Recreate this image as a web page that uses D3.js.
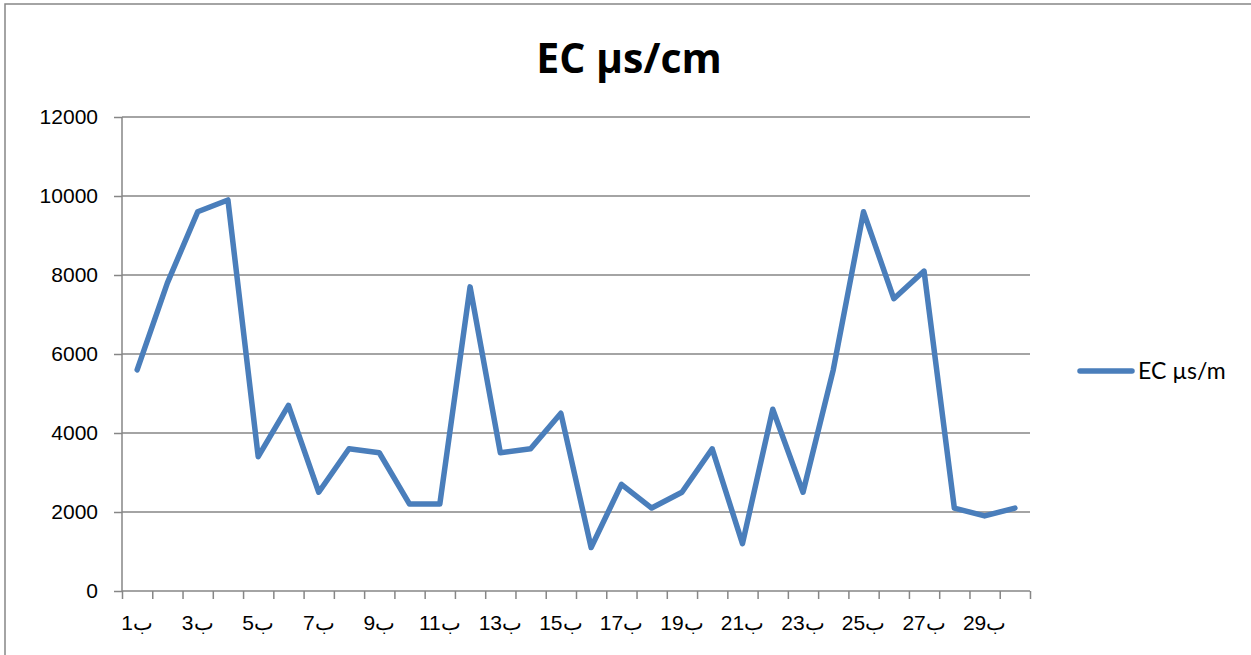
<!DOCTYPE html>
<html>
<head>
<meta charset="utf-8">
<script src="https://cdn.jsdelivr.net/npm/d3@7"></script>
<style>
    body { margin: 0; background: #fff; }
    .axis text { font-family: "Liberation Sans", Arial, sans-serif; font-size: 21px; fill: #000; }
    .axis path, .axis line { stroke: #868686; stroke-width: 1.5; }
</style>
</head>
<body>
<div id="chart"></div>
<script>
// stations ب1 .. ب30
var categories = [];
for (var n = 1; n <= 30; n++) { categories.push("ب" + n); }

var ecValues = [5600, 7800, 9600, 9900, 3400, 4700, 2500, 3600, 3500, 2200,
                2200, 7700, 3500, 3600, 4500, 1100, 2700, 2100, 2500, 3600,
                1200, 4600, 2500, 5600, 9600, 7400, 8100, 2100, 1900, 2100];

var yTicks = [0, 2000, 4000, 6000, 8000, 10000, 12000];

var titleText = "EC µs/cm";
var seriesName = "EC µs/m";

function drawChart() {

    var width = 1251, height = 655;
    var plot = {left: 122, right: 1030, top: 117, bottom: 591};

    var svg = d3.select("#chart").append("svg")
        .attr("width", width)
        .attr("height", height);

    // outer frame
    svg.append("rect")
        .attr("x", 5).attr("y", 4)
        .attr("width", 1260).attr("height", 660)
        .attr("fill", "none")
        .attr("stroke", "#868686")
        .attr("stroke-width", 1.5);

    var x = d3.scaleBand().domain(categories).range([plot.left, plot.right]);
    var xb = d3.scaleLinear().domain([0, categories.length]).range([plot.left, plot.right]);
    var y = d3.scaleLinear().domain([0, 12000]).range([plot.bottom, plot.top]);

    // gridlines
    svg.append("g").selectAll("line")
        .data(yTicks.slice(1))
        .enter().append("line")
        .attr("x1", plot.left).attr("x2", plot.right)
        .attr("y1", function (d) { return y(d); })
        .attr("y2", function (d) { return y(d); })
        .attr("stroke", "#868686")
        .attr("stroke-width", 1.5);

    var yAxis = d3.axisLeft(y).tickValues(yTicks).tickSize(8).tickPadding(16).tickFormat(d3.format("d"));
    svg.append("g")
        .attr("class", "axis")
        .attr("transform", "translate(" + plot.left + ",0)")
        .call(yAxis)
        .call(function (g) { g.select(".domain").attr("d", "M0," + plot.top + "V" + plot.bottom); });

    // category boundary ticks
    svg.append("g")
        .attr("class", "axis")
        .attr("transform", "translate(0," + plot.bottom + ")")
        .call(d3.axisBottom(xb).ticks(categories.length).tickSize(8).tickFormat(""))
        .call(function (g) { g.select(".domain").attr("d", "M" + plot.left + ",0H" + plot.right); });

    // labels every second category
    svg.append("g")
        .attr("class", "axis")
        .attr("transform", "translate(0," + plot.bottom + ")")
        .call(d3.axisBottom(x).tickValues(categories.filter(function (d, i) { return i % 2 === 0; }))
            .tickSize(0).tickPadding(24))
        .call(function (g) { g.select(".domain").remove(); });

    var line = d3.line()
        .x(function (d, i) { return x(categories[i]) + x.bandwidth() / 2; })
        .y(function (d) { return y(d); });

    svg.append("path")
        .attr("d", line(ecValues))
        .attr("fill", "none")
        .attr("stroke", "#4a7ebb")
        .attr("stroke-width", 5.5)
        .attr("stroke-linejoin", "round")
        .attr("stroke-linecap", "round");

    // title
    svg.append("text")
        .attr("x", 629).attr("y", 73)
        .attr("text-anchor", "middle")
        .style("font-family", "'Open Sans', sans-serif")
        .style("font-weight", "bold")
        .style("font-size", "41px")
        .text(titleText);

    // legend
    svg.append("line")
        .attr("x1", 1080).attr("x2", 1132)
        .attr("y1", 371).attr("y2", 371)
        .attr("stroke", "#4a7ebb")
        .attr("stroke-width", 5.5)
        .attr("stroke-linecap", "round");

    svg.append("text")
        .attr("x", 1138).attr("y", 379)
        .style("font-family", "Lato, 'Open Sans', sans-serif")
        .style("font-size", "23px")
        .text(seriesName);
}

drawChart();
</script>
</body>
</html>
